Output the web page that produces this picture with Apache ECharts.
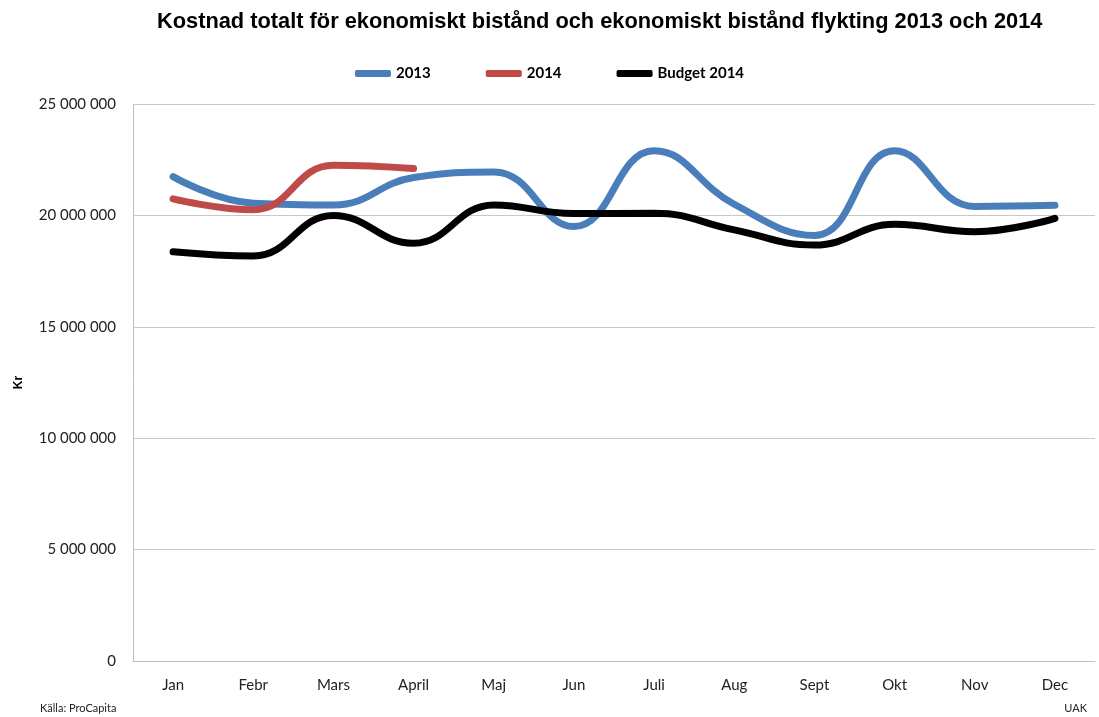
<!DOCTYPE html>
<html>
<head>
<meta charset="utf-8">
<script src="https://cdn.jsdelivr.net/npm/echarts@6/dist/echarts.min.js"></script>
<style>
  html, body { margin: 0; padding: 0; background: #fff; }
  #chart { width: 1099px; height: 717px; }
</style>
</head>
<body>
<div id="chart"></div>
<script>
const months = ['Jan', 'Febr', 'Mars', 'April', 'Maj', 'Jun', 'Juli', 'Aug', 'Sept', 'Okt', 'Nov', 'Dec']
const cost2013 = [21740000, 20550000, 20470000, 21700000, 21950000, 19500000, 22900000, 20500000, 19100000, 22900000, 20400000, 20450000]
const cost2014 = [20740000, 20250000, 22250000, 22100000]
const budget2014 = [18370000, 18180000, 20000000, 18750000, 20470000, 20080000, 20100000, 19350000, 18670000, 19600000, 19270000, 19870000]

const chart = echarts.init(document.getElementById('chart'))

function fmt(v) {
  return String(v).replace(/\B(?=(\d{3})+(?!\d))/g, ' ')
}

const lineSeries = (name, data, color) => ({
  name: name,
  type: 'line',
  data: data,
  smooth: 0.45,
  symbol: 'none',
  lineStyle: { width: 7, color: color, cap: 'round' },
  itemStyle: { color: color }
})

const option = {
  backgroundColor: '#fff',
  animation: false,
  title: {
    text: 'Kostnad totalt för ekonomiskt bistånd och ekonomiskt bistånd flykting 2013 och 2014',
    left: 152,
    top: 6,
    textStyle: { fontFamily: 'Liberation Sans', fontSize: 21.8, fontWeight: 'bold', color: '#000' }
  },
  legend: {
    top: 61,
    left: 'center',
    itemWidth: 36,
    itemHeight: 7,
    itemGap: 55,
    icon: 'roundRect',
    textStyle: { fontFamily: 'Lato', fontSize: 15, fontWeight: 'bold', color: '#000' }
  },
  grid: { left: 133, right: 4, top: 104, bottom: 56 },
  xAxis: {
    type: 'category',
    data: months,
    boundaryGap: true,
    axisLine: { lineStyle: { color: '#BFBFBF', width: 1 } },
    axisTick: { show: false },
    axisLabel: { fontFamily: 'Lato', fontSize: 15, color: '#222', margin: 17 }
  },
  yAxis: {
    type: 'value',
    min: 0,
    max: 25000000,
    interval: 5000000,
    name: 'Kr',
    nameLocation: 'middle',
    nameGap: 108,
    nameRotate: 90,
    nameTextStyle: { fontFamily: 'Liberation Sans', fontSize: 12, fontWeight: 'bold', color: '#000' },
    axisLine: { show: true, lineStyle: { color: '#BFBFBF' } },
    axisTick: { show: false },
    splitLine: { lineStyle: { color: '#C8C8C8' } },
    axisLabel: { fontFamily: 'Lato', fontSize: 15, color: '#222', margin: 17, formatter: fmt }
  },
  graphic: [
    { type: 'text', left: 40, top: 703, style: { text: 'Källa: ProCapita', fontFamily: 'Lato', fontSize: 11, fill: '#222' } },
    { type: 'text', right: 12, top: 703, style: { text: 'UAK', fontFamily: 'Lato', fontSize: 11, fill: '#222' } }
  ],
  series: [
    lineSeries('2013', cost2013, '#4A7EBB'),
    lineSeries('2014', cost2014, '#BE4B48'),
    lineSeries('Budget 2014', budget2014, '#000000')
  ]
}

chart.setOption(option)
</script>
</body>
</html>
